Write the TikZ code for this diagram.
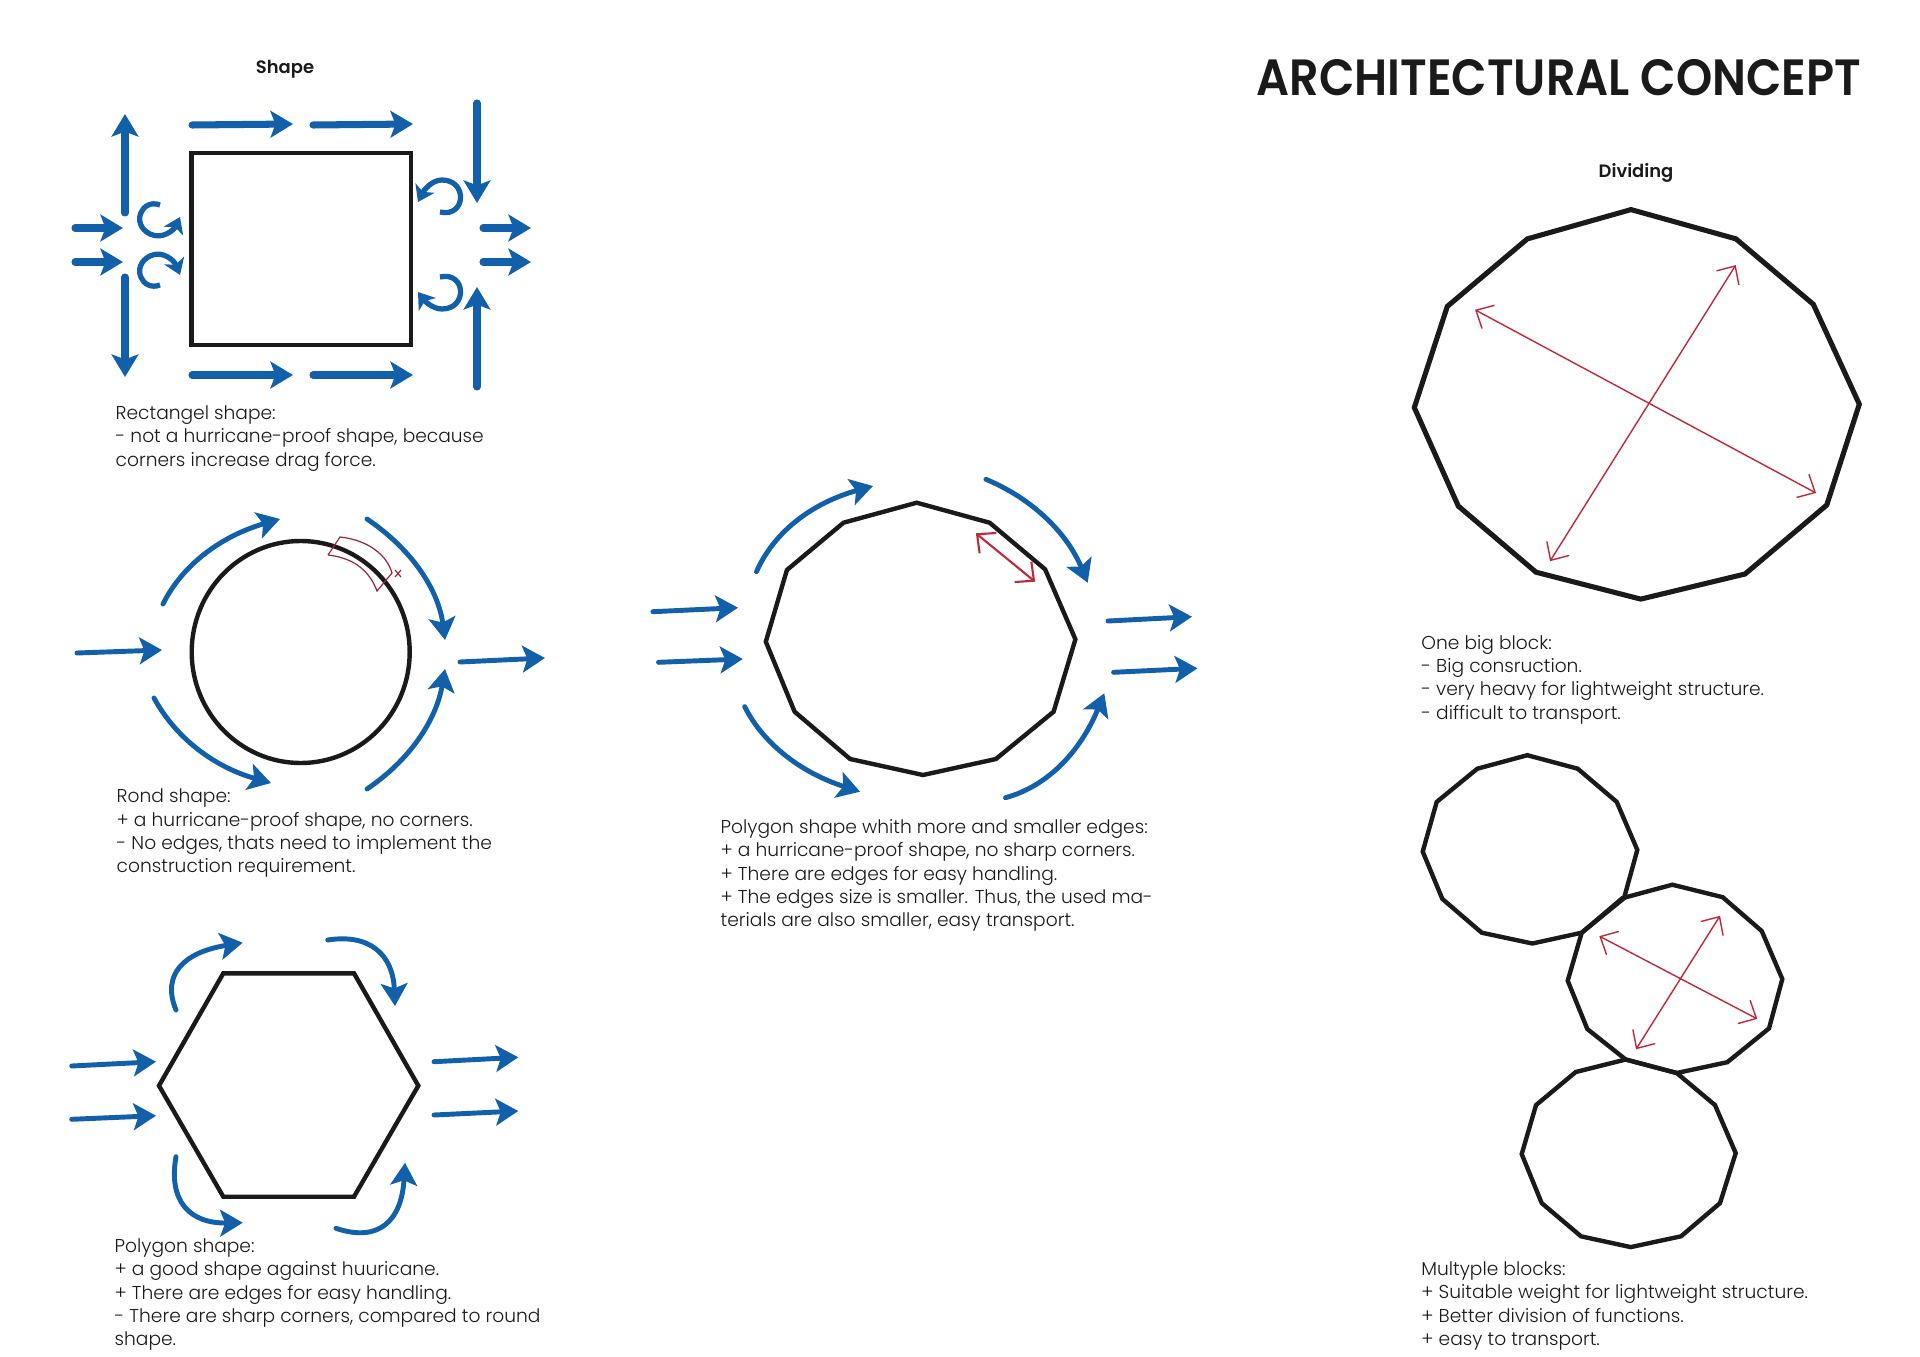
\documentclass[tikz,border=0pt]{standalone}
\usepackage{fontspec}
\setmainfont{Poppins Light}[BoldFont={Poppins SemiBold}]
\newfontfamily\titlefont{Poppins SemiBold}[FakeStretch=0.906]
\usetikzlibrary{arrows.meta,calc}
\definecolor{wind}{HTML}{1160A9}
\definecolor{ink}{HTML}{1A1A1A}
\definecolor{accent}{HTML}{BC2A3A}
\definecolor{sector}{HTML}{96283C}
\tikzset{
  windarr/.style={-{Stealth[length=6.4pt,width=7.6pt,inset=1.4pt]},line width=1.4pt,draw=wind,line cap=round},
  windbold/.style={windarr,line width=2pt},
  curl/.style={-{Stealth[length=4.4pt,width=6pt,inset=1.2pt]},line width=1.5pt,draw=wind},
  hull/.style={draw=ink,line width=1.25pt,line join=miter},
  span/.style={{Straight Barb[length=4pt,width=7.5pt]}-{Straight Barb[length=4pt,width=7.5pt]},line width=0.4pt,draw=accent},
  spansmall/.style={span,line width=0.6pt},
  note/.style={anchor=north west,inner sep=0pt,align=left,text=ink,font=\fontsize{5.3}{6.62}\selectfont},
  heading/.style={inner sep=0pt,text=ink,font=\fontsize{5.1}{6.6}\selectfont\bfseries},
}
\begin{document}
\begin{tikzpicture}
  \useasboundingbox (0,0) rectangle (19.2,-13.57);

  \node[inner sep=0pt,anchor=base east,text=ink,font=\fontsize{14.5}{16}\titlefont] (title) at (18.62,-0.96) {ARCHITECTURAL CONCEPT};
  \node[heading] (shapehead) at (2.85,-0.69) {Shape};
  \node[heading] (dividehead) at (16.36,-1.73) {Dividing};

  % rectangle
  \draw[hull] (1.915,-1.53) rectangle (4.11,-3.45);
  \foreach \xa/\ya/\xb/\yb in {1.92/-1.25/2.93/-1.24,3.13/-1.25/4.13/-1.24,1.92/-3.75/2.93/-3.75,3.13/-3.75/4.13/-3.75,
      1.25/-2.13/1.25/-1.14,1.25/-2.77/1.25/-3.77,4.77/-1.03/4.77/-2.03,4.77/-3.87/4.77/-2.87,
      0.75/-2.28/1.23/-2.28,0.75/-2.62/1.23/-2.62,4.83/-2.28/5.31/-2.28,4.83/-2.62/5.31/-2.62}
    \draw[windbold] (\xa,\ya) -- (\xb,\yb);
  \draw[curl] (1.60,-2.05) .. controls (1.42,-1.98) and (1.30,-2.24) .. (1.50,-2.34) .. controls (1.62,-2.40) and (1.74,-2.30) .. (1.80,-2.17);
  \draw[curl] (1.60,-2.85) .. controls (1.42,-2.92) and (1.30,-2.66) .. (1.50,-2.56) .. controls (1.62,-2.50) and (1.74,-2.60) .. (1.80,-2.75);
  \draw[curl] (4.40,-2.12) .. controls (4.66,-2.18) and (4.68,-1.80) .. (4.42,-1.80) .. controls (4.32,-1.80) and (4.24,-1.90) .. (4.18,-2.02);
  \draw[curl] (4.40,-2.77) .. controls (4.66,-2.71) and (4.68,-3.09) .. (4.42,-3.09) .. controls (4.32,-3.09) and (4.24,-3.00) .. (4.18,-2.92);
  \node[note] (rectnote) at (1.15,-4.05) {Rectangel shape:\\- not a hurricane-proof shape, because\\corners increase drag force.};

  % round
  \draw[hull] (3.007,-6.52) ellipse (1.09 and 1.11);
  \foreach \xa/\ya/\xb/\yb in {0.77/-6.53/1.62/-6.50,4.60/-6.62/5.45/-6.58}
    \draw[windarr] (\xa,\ya) -- (\xb,\yb);
  \foreach \xa/\ya/\xc/\yc/\xb/\yb in {1.63/-6.04/1.925/-5.445/2.80/-5.19,3.67/-5.19/4.35/-5.65/4.45/-6.40,
      3.67/-7.89/4.32/-7.45/4.45/-6.69,1.54/-6.98/1.875/-7.595/2.71/-7.83}
    \draw[windarr] (\xa,\ya) .. controls ($(\xa,\ya)!0.667!(\xc,\yc)$) and ($(\xb,\yb)!0.667!(\xc,\yc)$) .. (\xb,\yb);
  \draw[sector,line width=0.35pt] (3.28,-5.55) -- (3.40,-5.37) .. controls (3.68,-5.40) and (3.87,-5.55) .. (3.92,-5.73) -- (3.77,-5.91) .. controls (3.70,-5.72) and (3.55,-5.58) .. (3.28,-5.55);
  \draw[sector,line width=0.35pt] (3.95,-5.70) -- (4.01,-5.77) (4.01,-5.70) -- (3.95,-5.77);
  \node[note] (rondnote) at (1.16,-7.885) {Rond shape:\\+ a hurricane-proof shape, no corners.\\- No edges, thats need to implement the\\construction requirement.};

  % hexagon
  \draw[hull] (2.233,-9.733) -- (3.54,-9.733) -- (4.183,-10.857) -- (3.54,-11.967) -- (2.233,-11.967) -- (1.59,-10.857) -- cycle;
  \foreach \xa/\ya/\xb/\yb in {0.717/-10.66/1.56/-10.617,0.717/-11.193/1.56/-11.157,4.34/-10.617/5.183/-10.573,4.34/-11.15/5.183/-11.11}
    \draw[windarr] (\xa,\ya) -- (\xb,\yb);
  \foreach \xa/\ya/\xc/\yc/\xb/\yb in {1.76/-10.10/1.54/-9.57/2.427/-9.427,3.277/-9.40/3.92/-9.30/3.95/-10.06,
      1.76/-11.567/1.64/-12.24/2.427/-12.227,3.36/-12.283/4.00/-12.50/4.05/-11.627}
    \draw[windarr] (\xa,\ya) .. controls ($(\xa,\ya)!0.667!(\xc,\yc)$) and ($(\xb,\yb)!0.667!(\xc,\yc)$) .. (\xb,\yb);
  \node[note] (hexnote) at (1.14,-12.38) {Polygon shape:\\+ a good shape against huuricane.\\+ There are edges for easy handling.\\- There are sharp corners, compared to round\\shape.};

  % many edges
  \draw[hull] (9.167,-5.027) -- (9.896,-5.227) -- (10.451,-5.693) -- (10.754,-6.393) -- (10.536,-7.117) -- (9.959,-7.59) -- (9.23,-7.75) -- (8.501,-7.59) -- (7.946,-7.117) -- (7.658,-6.417) -- (7.869,-5.70) -- (8.435,-5.227) -- cycle;
  \foreach \xa/\ya/\xb/\yb in {6.529/-6.117/7.38/-6.077,6.585/-6.623/7.428/-6.59,11.08/-6.21/11.92/-6.167,11.136/-6.723/11.975/-6.683}
    \draw[windarr] (\xa,\ya) -- (\xb,\yb);
  \foreach \xa/\ya/\xc/\yc/\xb/\yb in {7.565/-5.717/7.83/-5.11/8.73/-4.86,9.859/-4.793/10.57/-5.09/10.877/-5.827,
      7.447/-7.067/7.736/-7.64/8.601/-7.917,10.055/-7.977/10.687/-7.805/11.043/-6.933}
    \draw[windarr] (\xa,\ya) .. controls ($(\xa,\ya)!0.667!(\xc,\yc)$) and ($(\xb,\yb)!0.667!(\xc,\yc)$) .. (\xb,\yb);
  \draw[spansmall] (9.759,-5.333) -- (10.351,-5.817);
  \node[note] (manynote) at (7.2,-8.19) {Polygon shape whith more and smaller edges:\\+ a hurricane-proof shape, no sharp corners.\\+ There are edges for easy handling.\\+ The edges size is smaller. Thus, the used ma-\\terials are also smaller, easy transport.};

  % one block
  \draw[hull,line width=1.45pt] (16.31,-2.096) -- (17.36,-2.389) -- (18.133,-3.043) -- (18.593,-4.042) -- (18.267,-5.051) -- (17.45,-5.74) -- (16.407,-5.991) -- (15.36,-5.722) -- (14.583,-5.061) -- (14.143,-4.076) -- (14.473,-3.064) -- (15.273,-2.389) -- cycle;
  \draw[span] (14.75,-3.098) -- (18.16,-4.93);
  \draw[span] (17.357,-2.651) -- (15.50,-5.612);
  \node[note] (onenote) at (14.207,-6.347) {One big block:\\- Big consruction.\\- very heavy for lightweight structure.\\- difficult to transport.};

  % three blocks
  \draw[hull] (15.273,-7.552) -- (15.777,-7.687) -- (16.167,-8.019) -- (16.373,-8.499) -- (16.24,-8.982) -- (15.817,-9.327) -- (15.323,-9.435) -- (14.817,-9.327) -- (14.423,-8.989) -- (14.227,-8.516) -- (14.367,-8.019) -- (14.773,-7.687) -- cycle;
  \draw[hull] (16.723,-8.847) -- (17.227,-8.972) -- (17.617,-9.31) -- (17.823,-9.79) -- (17.69,-10.284) -- (17.273,-10.622) -- (16.767,-10.73) -- (16.257,-10.595) -- (15.873,-10.29) -- (15.677,-9.807) -- (15.817,-9.327) -- (16.223,-8.982) -- cycle;
  \draw[hull] (16.307,-12.471) -- (16.81,-12.363) -- (17.20,-12.031) -- (17.357,-11.531) -- (17.15,-11.051) -- (16.767,-10.73) -- (16.257,-10.595) -- (15.757,-10.72) -- (15.36,-11.051) -- (15.217,-11.541) -- (15.417,-12.031) -- (15.81,-12.363) -- cycle;
  \draw[span] (15.993,-9.361) -- (17.573,-10.189);
  \draw[span] (17.20,-9.158) -- (16.36,-10.493);
  \node[note] (multinote) at (14.207,-12.61) {Multyple blocks:\\+ Suitable weight for lightweight structure.\\+ Better division of functions.\\+ easy to transport.};
\end{tikzpicture}
\end{document}
